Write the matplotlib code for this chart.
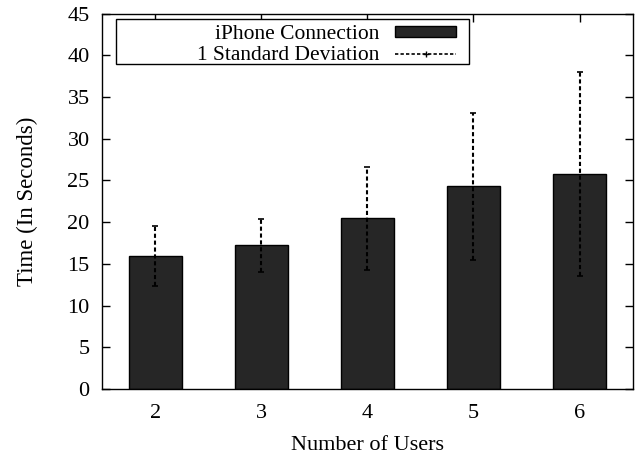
import matplotlib
matplotlib.use("Agg")
import matplotlib.pyplot as plt
from matplotlib.patches import Patch, Rectangle
from matplotlib.lines import Line2D

users = [2, 3, 4, 5, 6]
mean_time = [15.9, 17.2, 20.45, 24.3, 25.8]
std_dev = [3.6, 3.2, 6.15, 8.8, 12.2]

plt.rcParams['font.family'] = ['Liberation Serif', 'DejaVu Serif']
plt.rcParams['font.size'] = 16

fig = plt.figure(figsize=(6.39, 4.58), dpi=100)
ax = fig.add_axes([0.160, 0.1507, 0.830, 0.8198])

ax.bar(users, mean_time, width=0.5, color='#262626', edgecolor='black', linewidth=1.0, zorder=2)
eb = ax.errorbar(users, mean_time, yerr=std_dev, fmt='none', ecolor='black',
                 elinewidth=1.5, capsize=2, capthick=1.2, zorder=3)
for c in eb[2]:
    c.set_linestyle((0, (2.0, 1.3)))

ax.set_xlim(1.5, 6.5)
ax.set_ylim(0, 45)
ax.set_xticks(users)
ax.set_yticks(range(0, 46, 5))
ax.tick_params(direction='in', top=True, right=True, length=6, width=1)
ax.tick_params(axis='x', pad=11)
ax.tick_params(axis='y', pad=9)
for s in ax.spines.values():
    s.set_linewidth(1.0)

ax.set_xlabel('Number of Users', labelpad=9)
ax.set_ylabel('Time (In Seconds)', labelpad=21, fontsize=16.5)

# legend frame (gnuplot-style wide box)
ax.add_patch(Rectangle((0.0258, 0.8655), 0.6655, 0.1195, transform=ax.transAxes,
                       facecolor='white', edgecolor='black', linewidth=1.0, zorder=4))

handles = [Patch(facecolor='#262626', edgecolor='black', linewidth=1.0),
           Line2D([0, 0.5, 1], [0, 0, 0], color='black', linestyle=(0, (2.0, 1.3)),
                  linewidth=1.2, marker='+', markersize=5, markevery=[1])]
leg = ax.legend(handles, ['iPhone Connection', '1 Standard Deviation'],
                loc='upper right', bbox_to_anchor=(0.6784, 0.985), markerfirst=False,
                frameon=False, fontsize=15.5,
                borderpad=0.27, labelspacing=0.1, handlelength=2.85, handleheight=0.38,
                handletextpad=0.7, borderaxespad=0.0)
leg.set_zorder(5)
for t in leg.get_texts():
    t.set_ha('right')

fig.savefig('out.png', dpi=100)
